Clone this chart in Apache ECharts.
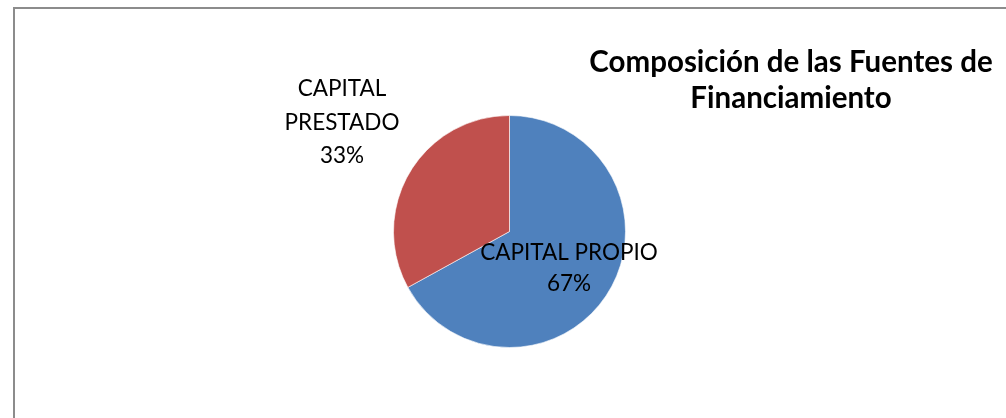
<!DOCTYPE html>
<html>
<head>
<meta charset="utf-8">
<script src="https://cdn.jsdelivr.net/npm/echarts@6/dist/echarts.min.js"></script>
<style>
html,body{margin:0;padding:0;background:#fff;}
#chart{width:1006px;height:418px;}
</style>
</head>
<body>
<div id="chart"></div>
<script>
const categories = ['CAPITAL PROPIO', 'CAPITAL PRESTADO'];
const values = [67, 33];
const colors = ['#4F81BD', '#C0504D'];
const titleText = 'Composición de las Fuentes de\nFinanciamiento';

const chart = echarts.init(document.getElementById('chart'), null, {renderer: 'canvas'});
const labelOffsets = [[7, 6], [-115, -78]];
const labelLineHeights = [31, 33.5];

chart.setOption({
  animation: false,
  backgroundColor: '#fff',
  title: {
    text: titleText,
    left: 786,
    top: 39,
    textAlign: 'center',
    textStyle: {fontFamily: 'Lato', fontWeight: 'bold', fontSize: 29.5, color: '#000', lineHeight: 36.5}
  },
  graphic: [{
    type: 'rect', z: 100, silent: true,
    shape: {x: 14, y: 8, width: 1200, height: 600},
    style: {fill: 'none', stroke: '#8c8c8c', lineWidth: 2}
  }],
  series: [{
    type: 'pie',
    center: [509.5, 231.5],
    radius: 116,
    startAngle: 90,
    clockwise: true,
    itemStyle: {borderColor: 'rgba(255,255,255,0.6)', borderWidth: 1},
    label: {
      position: 'inside',
      fontFamily: 'Lato', fontSize: 22.5, color: '#000', align: 'center'
    },
    labelLine: {show: false},
    emphasis: {disabled: true},
    data: categories.map((c, i) => ({
      name: c,
      value: values[i],
      itemStyle: {color: colors[i]},
      label: {
        offset: labelOffsets[i],
        lineHeight: labelLineHeights[i],
        formatter: i === 0 ? '{b}\n{d}%' : 'CAPITAL\nPRESTADO\n{d}%'
      }
    }))
  }]
});
</script>
</body>
</html>
